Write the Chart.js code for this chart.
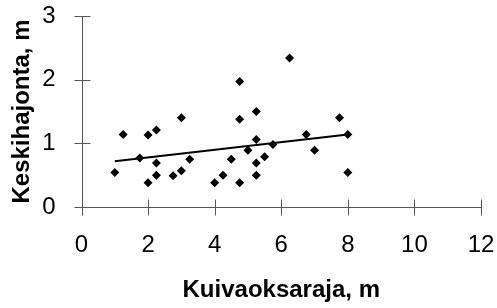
<!DOCTYPE html>
<html>
<head>
<meta charset="utf-8">
<script src="https://cdn.jsdelivr.net/npm/chart.js@4/dist/chart.umd.min.js"></script>
<style>
  html, body { margin: 0; padding: 0; background: #fff; overflow: hidden; }
  #wrap { width: 497px; height: 308px; position: relative; }
</style>
</head>
<body>
<div id="wrap"><canvas id="c" width="497" height="308"></canvas></div>
<script>
// Data
const xValues = [1.0, 1.25, 1.75, 2.0, 2.25, 2.0, 2.25, 2.25, 2.75, 3.0, 3.0, 3.25, 4.0, 4.25, 4.5, 4.75, 4.75, 4.75, 5.0, 5.25, 5.25, 5.25, 5.25, 5.5, 5.75, 6.25, 6.75, 7.0, 7.75, 8.0, 8.0];
const yValues = [0.54, 1.14, 0.77, 1.13, 1.21, 0.38, 0.69, 0.50, 0.49, 1.40, 0.57, 0.75, 0.38, 0.50, 0.75, 1.97, 1.38, 0.38, 0.89, 1.50, 1.06, 0.69, 0.50, 0.79, 0.98, 2.34, 1.14, 0.89, 1.40, 1.14, 0.54];
const trendX = [1, 8];
const trendY = [0.72, 1.14];
const xTicks = [0, 2, 4, 6, 8, 10, 12];
const yTicks = [0, 1, 2, 3];
const xTitle = 'Kuivaoksaraja, m';
const yTitle = 'Keskihajonta, m';

const points = xValues.map((x, i) => ({ x: x, y: yValues[i] }));
const trend = trendX.map((x, i) => ({ x: x, y: trendY[i] }));

const AXIS_COLOR = '#555';
const TICK_LEN = 8;
const FONT = 'Liberation Sans, Arial, sans-serif';

// axis lines with tick marks crossing the axis
const axesPlugin = {
  id: 'axesPlugin',
  afterDraw(chart) {
    const ctx = chart.ctx;
    const xs = chart.scales.x, ys = chart.scales.y;
    const x0 = Math.round(xs.getPixelForValue(xs.min)) + 0.5;
    const y0 = Math.round(ys.getPixelForValue(ys.min)) + 0.5;
    ctx.save();
    ctx.strokeStyle = AXIS_COLOR;
    ctx.lineWidth = 1;
    ctx.beginPath();
    ctx.moveTo(x0, Math.round(ys.getPixelForValue(ys.max)));
    ctx.lineTo(x0, y0);
    ctx.lineTo(Math.round(xs.getPixelForValue(xs.max)) + 1, y0);
    xs.ticks.forEach(t => {
      const px = Math.round(xs.getPixelForValue(t.value)) + 0.5;
      ctx.moveTo(px, y0 - TICK_LEN);
      ctx.lineTo(px, y0 + TICK_LEN);
    });
    ys.ticks.forEach(t => {
      const py = Math.round(ys.getPixelForValue(t.value)) + 0.5;
      ctx.moveTo(x0 - TICK_LEN, py);
      ctx.lineTo(x0 + TICK_LEN, py);
    });
    ctx.stroke();
    ctx.restore();
  }
};

new Chart(document.getElementById('c'), {
  type: 'scatter',
  data: {
    datasets: [
      {
        type: 'scatter',
        data: points,
        pointStyle: 'rectRot',
        pointRadius: 4.5,
        pointHoverRadius: 4.5,
        backgroundColor: '#000',
        borderColor: '#000',
        borderWidth: 0,
        order: 1
      },
      {
        type: 'line',
        data: trend,
        borderColor: '#000',
        borderWidth: 2,
        pointRadius: 0,
        fill: false,
        tension: 0,
        order: 2
      }
    ]
  },
  options: {
    responsive: false,
    animation: false,
    events: [],
    layout: { padding: { left: 0, right: 16, top: 16, bottom: 0 } },
    plugins: { legend: { display: false }, tooltip: { enabled: false } },
    scales: {
      x: {
        type: 'linear',
        min: 0, max: 12,
        afterBuildTicks(scale) { scale.ticks = xTicks.map(v => ({ value: v })); },
        afterFit(scale) { scale.height = 101; scale.paddingLeft = 0; scale.paddingRight = 0; },
        ticks: {
          color: '#000',
          padding: 24,
          font: { family: FONT, size: 24 },
          maxRotation: 0
        },
        grid: { display: false, drawTicks: false, tickLength: TICK_LEN },
        border: { display: false },
        title: {
          display: true,
          text: xTitle,
          color: '#000',
          font: { family: FONT, size: 24, weight: 'bold' },
          padding: { top: 4, bottom: 3 }
        }
      },
      y: {
        type: 'linear',
        min: 0, max: 3,
        afterBuildTicks(scale) { scale.ticks = yTicks.map(v => ({ value: v })); },
        afterFit(scale) { scale.width = 81.5; scale.paddingTop = 0; scale.paddingBottom = 0; },
        ticks: {
          color: '#000',
          padding: 26,
          font: { family: FONT, size: 24 }
        },
        grid: { display: false, drawTicks: false, tickLength: TICK_LEN },
        border: { display: false },
        title: {
          display: true,
          text: yTitle,
          color: '#000',
          font: { family: FONT, size: 24, weight: 'bold' },
          padding: { top: 8, bottom: 4 }
        }
      }
    }
  },
  plugins: [axesPlugin]
});
</script>
</body>
</html>
